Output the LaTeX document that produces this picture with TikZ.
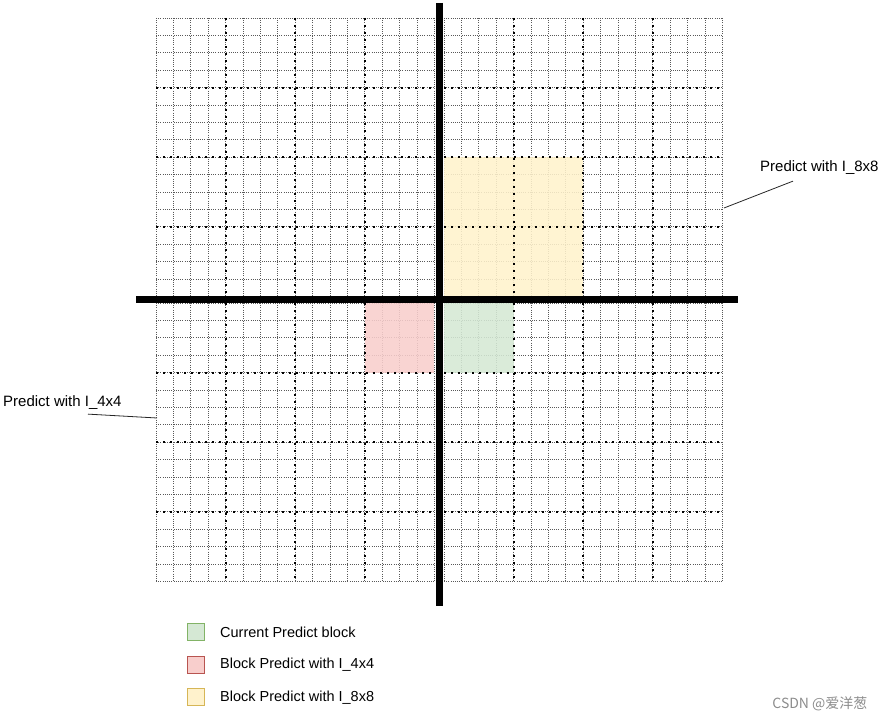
\documentclass[tikz,border=0pt]{standalone}
\usepackage{fontspec}
\setmainfont{Liberation Sans}
\newfontfamily\cjkfont{Noto Sans CJK SC}
\usetikzlibrary{positioning}
\definecolor{curfill}{HTML}{D5E8D4}
\definecolor{curline}{HTML}{82B366}
\definecolor{fourfill}{HTML}{F8CECC}
\definecolor{fourline}{HTML}{B85450}
\definecolor{eightfill}{HTML}{FFF2CC}
\definecolor{eightline}{HTML}{D6B656}
\tikzset{
  fine line/.style={draw=black!65,line width=0.7pt,dash pattern=on 1pt off 1.2pt},
  major line/.style={draw=black,line width=2pt,dash pattern=on 2pt off 5pt},
  axis line/.style={draw=black,line width=7pt},
  block/.style={fill=#1,fill opacity=0.88},
  swatch/.style={line width=1pt,minimum size=17pt,inner sep=0pt},
  note/.style={font=\fontsize{15}{17}\selectfont,inner sep=1pt},
  pointer/.style={draw=black!85,line width=0.8pt},
}

\begin{document}
\begin{tikzpicture}[x=1pt,y=-1pt]
  \useasboundingbox (0,0) rectangle (886,719);
  \def\cs{17.4}
  % fine grid, one per quadrant
  \foreach \qx/\qy in {156/18,444/18,156/303,444/303}{
    \foreach \k in {0,...,16}{
      \draw[fine line] (\qx+\k*\cs,\qy) -- ++(0,16*\cs);
      \draw[fine line] (\qx,\qy+\k*\cs) -- ++(16*\cs,0);
    }
  }
  % predicted blocks
  \fill[block=curfill] (444,303) rectangle ++(4*\cs,4*\cs);
  \fill[block=fourfill] (156+12*\cs,303) rectangle ++(4*\cs,4*\cs);
  \fill[block=eightfill] (444,18+8*\cs) rectangle ++(8*\cs,8*\cs);
  % 4x4 block borders
  \foreach \qx/\qy in {156/18,444/18,156/303,444/303}{
    \foreach \k in {4,8,12}{
      \draw[major line] (\qx+\k*\cs,\qy) -- ++(0,16*\cs);
      \draw[major line] (\qx,\qy+\k*\cs) -- ++(16*\cs,0);
    }
  }
  % axes
  \draw[axis line] (439,3) -- (439,606);
  \draw[axis line] (136,299.7) -- (738,299.7);

  % labels
  \node[note,anchor=west] (l8) at (759,168) {Predict with I\_8x8};
  \coordinate (p8) at (724,208);
  \draw[pointer] (p8) -- ([xshift=34pt,yshift=-5pt]l8.south west);
  \node[note,anchor=west] (l4) at (2,403) {Predict with I\_4x4};
  \coordinate (p4) at (157,418);
  \draw[pointer] ([xshift=86pt,yshift=-3pt]l4.south west) -- (p4);

  % legend
  \foreach \f/\d/\t [count=\i from 0] in {curfill/curline/Current Predict block,fourfill/fourline/Block Predict with I\_4x4,eightfill/eightline/Block Predict with I\_8x8}{
    \node[swatch,draw=\d,fill=\f] (sw\i) at (196,632+\i*32.7) {};
    \node[note,font=\fontsize{14.5}{17}\selectfont,right=14pt of sw\i] (lg\i) {\t};
  }
  \node[font=\cjkfont\fontsize{14}{16}\selectfont,text=black!45,anchor=east] (mark) at (871,704) {CSDN @爱洋葱};
\end{tikzpicture}
\end{document}
